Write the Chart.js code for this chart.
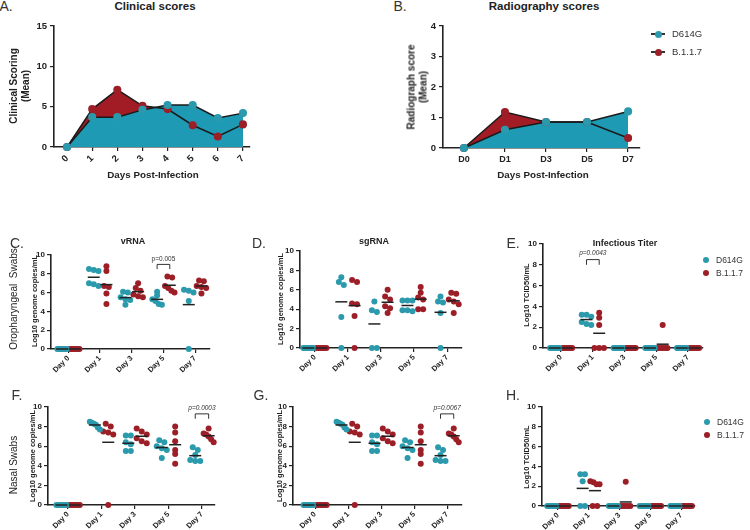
<!DOCTYPE html>
<html><head><meta charset="utf-8">
<script src="https://cdn.jsdelivr.net/npm/chart.js@4/dist/chart.umd.min.js"></script>
<style>
body{margin:0;background:#fff;}
#root{position:relative;width:750px;height:530px;overflow:hidden;font-family:"Liberation Sans",Arial,sans-serif;color:#222;}
.t{position:absolute;white-space:nowrap;transform:translate(-50%,-50%);line-height:1.15;}
.r{position:absolute;white-space:nowrap;transform:translate(-50%,-50%) rotate(-90deg);text-align:center;line-height:1.15;}
canvas{position:absolute;}
</style></head><body><div id="root"></div>
<script>
// ---------- data ----------
const daysA = [0, 1, 2, 3, 4, 5, 6, 7];
const clinicalD614G = [0, 3.7, 3.7, 4.6, 5.2, 5.2, 3.6, 4.2];
const clinicalB117  = [0, 4.7, 7.1, 5.1, 4.7, 2.7, 1.3, 2.8];

const radioDays = ['D0', 'D1', 'D3', 'D5', 'D7'];
const radioD614G = [0, 0.6, 0.85, 0.85, 1.2];
const radioB117  = [0, 1.18, 0.85, 0.85, 0.33];

const swabDays = ['Day 0', 'Day 1', 'Day 3', 'Day 5', 'Day 7'];

const vrnaOroD614G = [[0,0,0,0,0,0],[8.5,8.4,8.3,7.0,6.9,6.7],[6.1,6.0,5.5,5.3,5.2,4.7],[6.1,5.7,5.3,5.1,4.8,4.7],[6.3,6.2,6.0,5.1,0]];
const vrnaOroB117  = [[0,0,0,0,0,0],[8.8,8.3,6.7,6.6,5.9,4.8],[7.0,6.5,6.2,5.8,5.6,5.5],[7.7,7.6,6.7,6.5,6.2,6.0],[7.3,7.2,6.7,6.6,6.5,5.9]];

const sgrnaOroD614G = [[0,0,0,0,0,0],[7.3,6.8,6.5,3.2,0],[4.8,3.9,3.7,0,0],[4.9,4.9,4.9,3.9,3.9,3.8],[5.3,4.8,4.7,3.6,0]];
const sgrnaOroB117  = [[0,0,0,0,0,0],[7.0,6.8,4.6,4.5,3.3,0],[6.0,5.3,5.0,4.3,4.1,3.6],[6.3,5.7,5.2,5.0,4.0,4.0],[5.7,5.6,5.0,4.8,4.5,3.6]];

const titerOroD614G = [[0,0,0,0,0,0],[3.2,3.2,3.0,2.5,2.3,2.2],[0,0,0,0,0,0],[0,0,0,0,0,0],[0,0,0,0,0,0]];
const titerOroB117  = [[0,0,0,0,0,0],[3.4,2.9,2.2,0,0,0],[0,0,0,0,0,0],[2.2,0,0,0,0,0],[0,0,0,0,0,0]];

const vrnaNasD614G = [[0,0,0,0,0,0],[8.5,8.4,8.3,8.2,7.9,7.7],[7.1,7.1,6.4,6.2,5.5,5.5],[6.6,6.4,6.0,5.8,5.6,4.8],[5.9,5.6,5.1,4.6,4.5,4.5]];
const vrnaNasB117  = [[0,0,0,0,0,0],[8.3,8.0,7.5,7.4,7.2,0],[7.8,7.5,7.2,6.8,6.5,6.3],[8.0,7.4,6.5,5.6,5.2,4.2],[7.8,7.3,7.2,7.0,6.7,6.4]];

const sgrnaNasD614G = [[0,0,0,0,0,0],[8.5,8.4,8.3,8.2,7.9,7.7],[7.1,7.1,6.4,6.2,5.5,5.5],[6.6,6.4,6.0,5.8,5.6,4.8],[5.9,5.6,5.1,4.6,4.5,4.5]];
const sgrnaNasB117  = [[0,0,0,0,0,0],[8.3,8.0,7.5,7.4,7.2,0],[7.8,7.5,7.2,6.8,6.5,6.3],[8.0,7.4,6.5,5.6,5.2,4.2],[7.8,7.3,7.2,7.0,6.7,6.4]];

const titerNasD614G = [[0,0,0,0,0,0],[3.2,3.2,2.5,0,0],[0,0,0,0,0,0],[0,0,0,0,0,0],[0,0,0,0,0,0]];
const titerNasB117  = [[0,0,0,0,0,0],[2.5,2.4,2.2,2.2,0,0],[2.45,0,0,0,0,0],[0,0,0,0,0,0],[0,0,0,0,0,0]];

const pValues = {C: 'p=0.005', E: 'p=0.0043', F: 'p=0.0003', G: 'p=0.0067'};

// ---------- styles ----------
const TEAL = '#2a9aac', RED = '#9c1f28';
const TEAL_FILL = '#1f9ab4', RED_FILL = '#a11c24';
const INK = '#222';
const FONT = '"Liberation Sans", Arial, sans-serif';
const root = document.getElementById('root');

function text(str, x, y, css, rot) {
  const d = document.createElement('div');
  d.className = rot ? 'r' : 't';
  d.innerHTML = str;
  d.style.left = x + 'px'; d.style.top = y + 'px';
  d.style.cssText += css || '';
  root.appendChild(d);
}

function makeChart(area, cfg, plugins) {
  const padL = 46, padT = 12, padR = 12, padB = 46;
  const c = document.createElement('canvas');
  const w = area.r - area.l + padL + padR, h = area.b - area.t + padT + padB;
  c.width = w; c.height = h;
  c.style.left = (area.l - padL) + 'px'; c.style.top = (area.t - padT) + 'px';
  root.appendChild(c);
  cfg.options.layout = {padding: {top: padT, right: padR, left: 0, bottom: 0}};
  cfg.options.scales.x.afterFit = s => { s.height = padB; };
  cfg.options.scales.y.afterFit = s => { s.width = padL; };
  cfg.options.animation = false;
  cfg.options.responsive = false;
  cfg.options.devicePixelRatio = 1;
  cfg.options.plugins = Object.assign({legend: {display: false}, tooltip: {enabled: false}}, cfg.options.plugins || {});
  return new Chart(c, {type: cfg.type, data: cfg.data, options: cfg.options, plugins: plugins || []});
}

function axisStyle(extra) {
  return Object.assign({
    grid: {drawOnChartArea: false, drawTicks: true, tickLength: 4, color: INK, lineWidth: 1.2},
    border: {color: INK, width: 1.6}
  }, extra);
}

// ---------- Panels A and B ----------
function areaChart(area, labels, d1, d2, xmin, xmax, ymax, ystep, xRot) {
  const mk = (arr, fillC, ptC, lab) => ({
    label: lab,
    data: arr.map((v, i) => ({x: i, y: v})),
    borderColor: '#1a1a1a', borderWidth: 1.5, backgroundColor: fillC, fill: 'origin',
    pointBackgroundColor: ptC, pointBorderColor: ptC, pointRadius: 3.3, tension: 0, clip: false
  });
  makeChart(area, {
    type: 'line',
    data: {datasets: [mk(d1, TEAL_FILL, TEAL, 'D614G'), mk(d2, RED_FILL, RED, 'B.1.1.7')]},
    options: {
      plugins: {filler: {drawTime: 'beforeDatasetsDraw'}},
      scales: {
        x: axisStyle({type: 'linear', min: xmin, max: xmax,
          afterBuildTicks: s => { s.ticks = labels.map((l, i) => ({value: i})); },
          ticks: {autoSkip: false, minRotation: xRot, maxRotation: xRot, padding: 2, color: INK,
            font: {family: FONT, weight: 'bold', size: xRot ? 9.5 : 9},
            callback: v => labels[v]}}),
        y: axisStyle({min: 0, max: ymax,
          ticks: {stepSize: ystep, padding: 3, color: INK, font: {family: FONT, weight: 'bold', size: 9.5}}})
      }
    }
  });
}
areaChart({l: 54, t: 26, r: 250, b: 147}, daysA.map(String), clinicalD614G, clinicalB117, -0.52, 7.28, 15, 5, 45);
areaChart({l: 443, t: 26, r: 640, b: 148}, radioDays, radioD614G, radioB117, -0.51, 4.29, 4, 1, 0);

// ---------- scatter panels ----------
const OFF = 0.2;
function swarm(vals, center) {
  const sorted = vals.slice().sort((a, b) => b - a);
  const pts = []; let cl = [];
  const flush = () => {
    const k = cl.length;
    const step = Math.min(0.15, 0.3 / Math.max(k - 1, 1));
    cl.forEach((v, j) => pts.push({x: center + (j - (k - 1) / 2) * step, y: v}));
    cl = [];
  };
  sorted.forEach(v => { if (cl.length && cl[cl.length - 1] - v > 0.35) flush(); cl.push(v); });
  flush();
  return pts;
}
const mean = a => a.reduce((s, v) => s + v, 0) / a.length;

function bracketPlugin(b) {
  return {
    id: 'bracket',
    afterDatasetsDraw(chart) {
      if (!b) return;
      const xs = chart.scales.x, ys = chart.scales.y, ctx = chart.ctx;
      const x1 = xs.getPixelForValue(b.day - OFF), x2 = xs.getPixelForValue(b.day + OFF);
      const yt = ys.getPixelForValue(b.y), yb = ys.getPixelForValue(b.y - 0.5);
      ctx.save();
      ctx.strokeStyle = '#333'; ctx.lineWidth = 1;
      ctx.beginPath(); ctx.moveTo(x1, yb); ctx.lineTo(x1, yt); ctx.lineTo(x2, yt); ctx.lineTo(x2, yb); ctx.stroke();
      ctx.font = (b.italic ? 'italic ' : '') + '6.5px ' + FONT;
      ctx.textAlign = 'center'; ctx.textBaseline = 'middle'; ctx.fillStyle = '#333';
      ctx.fillText(b.text, (x1 + x2) / 2, ys.getPixelForValue(b.y + 0.6));
      ctx.restore();
    }
  };
}

function dotChart(area, gA, gB, xmin, xmax, bracket) {
  const pts = (groups, off) => groups.flatMap((g, i) => swarm(g, i + off));
  const means = (groups, off) => groups.map((g, i) => ({x: i + off, y: mean(g)}));
  const meanDs = (groups, off) => ({data: means(groups, off), pointStyle: 'line', pointRadius: 6,
    pointBorderColor: INK, pointBorderWidth: 1.5, showLine: false, clip: false});
  makeChart(area, {
    type: 'scatter',
    data: {datasets: [
      meanDs(gA, -OFF), meanDs(gB, OFF),
      {data: pts(gA, -OFF), pointRadius: 3, pointBackgroundColor: TEAL, pointBorderColor: TEAL, pointBorderWidth: 0, clip: false},
      {data: pts(gB, OFF), pointRadius: 3, pointBackgroundColor: RED, pointBorderColor: RED, pointBorderWidth: 0, clip: false}
    ]},
    options: {
      scales: {
        x: axisStyle({type: 'linear', min: xmin, max: xmax,
          afterBuildTicks: s => { s.ticks = swabDays.map((l, i) => ({value: i})); },
          ticks: {autoSkip: false, minRotation: 45, maxRotation: 45, padding: 1, color: INK,
            font: {family: FONT, weight: 'bold', size: 7.5}, callback: v => swabDays[v]}}),
        y: axisStyle({min: 0, max: 10,
          ticks: {stepSize: 2, padding: 2, color: INK, font: {family: FONT, weight: 'bold', size: 8}}})
      }
    }
  }, [bracketPlugin(bracket)]);
}

dotChart({l: 51, t: 255, r: 210, b: 349}, vrnaOroD614G, vrnaOroB117, -0.55, 4.47, {day: 3, y: 9.0, text: pValues.C, italic: false});
dotChart({l: 300, t: 251, r: 462, b: 348}, sgrnaOroD614G, sgrnaOroB117, -0.45, 4.45, null);
dotChart({l: 543, t: 244, r: 703, b: 348}, titerOroD614G, titerOroB117, -0.57, 4.47, {day: 1, y: 8.5, text: pValues.E, italic: true});
dotChart({l: 48, t: 407, r: 215, b: 505}, vrnaNasD614G, vrnaNasB117, -0.6, 4.39, {day: 4, y: 9.3, text: pValues.F, italic: true});
dotChart({l: 293, t: 407, r: 462, b: 505}, sgrnaNasD614G, sgrnaNasB117, -0.67, 4.45, {day: 4, y: 9.3, text: pValues.G, italic: true});
dotChart({l: 542, t: 407, r: 695, b: 506}, titerNasD614G, titerNasB117, -0.52, 4.45, null);

// ---------- text ----------
const letter = 'font-size:14px;color:#333;';
text('A.', 6, 6, letter);
text('B.', 400, 6, letter);
text('C.', 17, 243, letter);
text('D.', 259, 243, letter);
text('E.', 513, 243, letter);
text('F.', 17, 395, letter);
text('G.', 261, 395, letter);
text('H.', 513, 395, letter);

const ttl = 'font-weight:bold;font-size:11.5px;';
text('Clinical scores', 155, 7, ttl);
text('Radiography scores', 544, 7, ttl);
text('Clinical Scoring<br>(Mean)', 19, 86, 'font-weight:bold;font-size:10px;', true);
text('Radiograph score<br>(Mean)', 417, 87, 'font-weight:bold;font-size:10px;', true);
text('Days Post-Infection', 153, 175, 'font-weight:bold;font-size:9.8px;');
text('Days Post-Infection', 543, 175, 'font-weight:bold;font-size:9.8px;');

const sub = 'font-weight:bold;font-size:9px;';
text('vRNA', 133, 241, sub);
text('sgRNA', 374, 241, sub);
text('Infectious Titer', 625, 243, sub);

const ylab = 'font-weight:bold;font-size:7.5px;';
text('Log10 genome copies/mL', 35, 301, ylab, true);
text('Log10 genome copies/mL', 281, 299, ylab, true);
text('Log10 TCID50/mL', 527, 295, ylab, true);
text('Log10 genome copies/mL', 33, 456, ylab, true);
text('Log10 genome copies/mL', 280, 456, ylab, true);
text('Log10 TCID50/mL', 527, 457, ylab, true);
text('Oropharyngeal&nbsp; Swabs', 14, 299, 'font-size:10px;', true);
text('Nasal Swabs', 14, 465, 'font-size:10px;', true);

// legends
function legendLine(y, color, label) {
  const l = document.createElement('div');
  l.style.cssText = `position:absolute;left:651px;top:${y - 0.75}px;width:14px;height:1.5px;background:#333;`;
  root.appendChild(l);
  const d = document.createElement('div');
  d.style.cssText = `position:absolute;left:${658 - 3.5}px;top:${y - 3.5}px;width:7px;height:7px;border-radius:50%;background:${color};`;
  root.appendChild(d);
  const t = document.createElement('div');
  t.style.cssText = `position:absolute;left:672px;top:${y - 7}px;font-size:9.5px;line-height:14px;color:#333;`;
  t.textContent = label;
  root.appendChild(t);
}
legendLine(34, TEAL, 'D614G');
legendLine(52, RED, 'B.1.1.7');

function legendDot(x, y, color, label) {
  const d = document.createElement('div');
  d.style.cssText = `position:absolute;left:${x - 3}px;top:${y - 3}px;width:6px;height:6px;border-radius:50%;background:${color};`;
  root.appendChild(d);
  const t = document.createElement('div');
  t.style.cssText = `position:absolute;left:${x + 10}px;top:${y - 7}px;font-size:8.5px;line-height:14px;color:#333;`;
  t.textContent = label;
  root.appendChild(t);
}
legendDot(706, 260, TEAL, 'D614G');
legendDot(706, 273, RED, 'B.1.1.7');
legendDot(707, 422, TEAL, 'D614G');
legendDot(707, 435, RED, 'B.1.1.7');
</script>
</body></html>
